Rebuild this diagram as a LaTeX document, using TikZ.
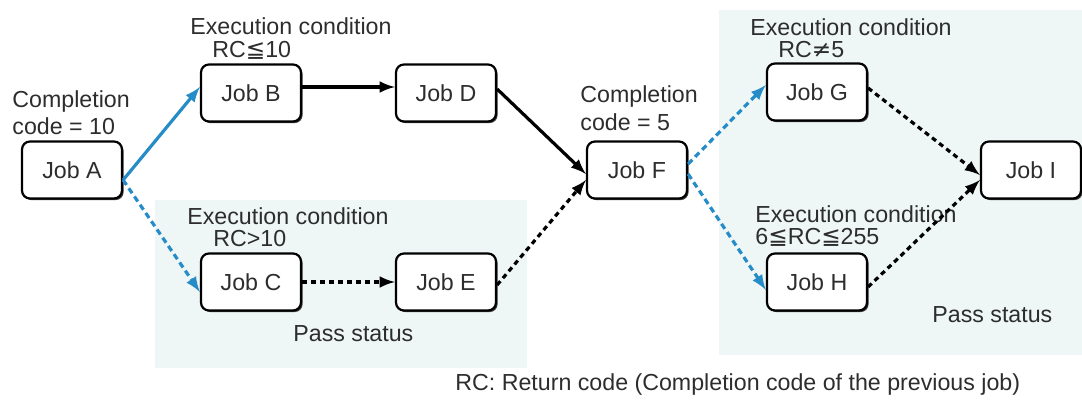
\documentclass[tikz,border=0pt]{standalone}
\usepackage{fontspec}
\setmainfont{Liberation Sans}
\newfontfamily\symfont{DejaVu Sans}
\usetikzlibrary{arrows, shadows}
\definecolor{jobblue}{RGB}{38, 140, 200}
\definecolor{passbg}{RGB}{238, 246, 246}
\definecolor{txtgray}{RGB}{45, 45, 45}
\newcommand{\leqqsym}{{\symfont ≦}}
\newcommand{\neqsym}{{\symfont ≠}}

\begin{document}
\begin{tikzpicture}[x=0.5pt, y=-0.5pt,
		font=\fontsize{11.6}{13}\selectfont,
		job/.style={draw=black, line width=1.1pt, fill=white, rounded corners=4pt,
			minimum width=50pt, minimum height=28.5pt, text=txtgray,
			drop shadow={shadow xshift=0.8pt, shadow yshift=-0.8pt, fill=black!75, opacity=1}},
		lbl/.style={anchor=north west, inner sep=0pt, align=left, text=txtgray},
		bline/.style={line width=1.6pt, jobblue, -latex},
		bdash/.style={bline, dash pattern=on 3pt off 2pt},
		kline/.style={line width=1.6pt, black, -latex},
		kdash/.style={kline, dash pattern=on 2.5pt off 2pt}]
	
	\useasboundingbox (0,0) rectangle (1082,401);
	
	%% ── pass status areas ──
	\fill[passbg] (155,200) rectangle (527,368);
	\fill[passbg] (719,10) rectangle (1082,355);
	
	%% ── jobs ──
	\node[job] (A) at (72,170) {Job A};
	\node[job] (B) at (251,93) {Job B};
	\node[job] (D) at (446,93) {Job D};
	\node[job] (C) at (251,282) {Job C};
	\node[job] (E) at (446,282) {Job E};
	\node[job] (F) at (637,170) {Job F};
	\node[job] (G) at (817,92) {Job G};
	\node[job] (H) at (817,282) {Job H};
	\node[job] (I) at (1031,170) {Job I};
	
	%% ── labels ──
	\node[lbl] (cA) at (12,90) {Completion\\[0.5pt]code = 10};
	\node[lbl] (eB) at (190,17) {Execution condition\\[-1.5pt]\hspace*{11pt}RC\leqqsym10};
	\node[lbl] (eC) at (187,207) {Execution condition\\[-2pt]\hspace*{13pt}RC>10};
	\node[lbl] (p1) at (293,325) {Pass status};
	\node[lbl] (cF) at (580,85) {Completion\\[1pt]code = 5};
	\node[lbl] (eG) at (750,18) {Execution condition\\[-2pt]\hspace*{14pt}RC\neqsym5};
	\node[lbl] (eH) at (755,205) {Execution condition\\[-2pt]6\leqqsym RC\leqqsym255};
	\node[lbl] (p2) at (932,306) {Pass status};
	\node[lbl] (rc) at (455,373) {RC: Return code (Completion code of the previous job)};
	
	%% ── connectors ──
	\draw[bline] ([yshift=-5pt]A.east) -- ([yshift=3pt]B.west);
	\draw[bdash] ([yshift=-5pt]A.east) -- ([yshift=-5pt]C.west);
	\draw[kline] ([yshift=3pt]B.east) -- ([yshift=3pt]D.west);
	\draw[kdash] (C.east) -- (E.west);
	\draw[kline] ([yshift=2pt]D.east) -- ([yshift=-2pt]F.west);
	\draw[kdash] ([yshift=-1.5pt]E.east) -- ([yshift=-5pt]F.west);
	\draw[bdash] ([yshift=3pt]F.east) -- ([yshift=3.5pt]G.west);
	\draw[bdash] ([yshift=-2pt]F.east) -- ([yshift=-4pt]H.west);
	\draw[kdash] ([yshift=2pt]G.east) -- ([yshift=-2.5pt]I.west);
	\draw[kdash] ([yshift=-2.5pt]H.east) -- ([yshift=-5pt]I.west);
	
\end{tikzpicture}
\end{document}
